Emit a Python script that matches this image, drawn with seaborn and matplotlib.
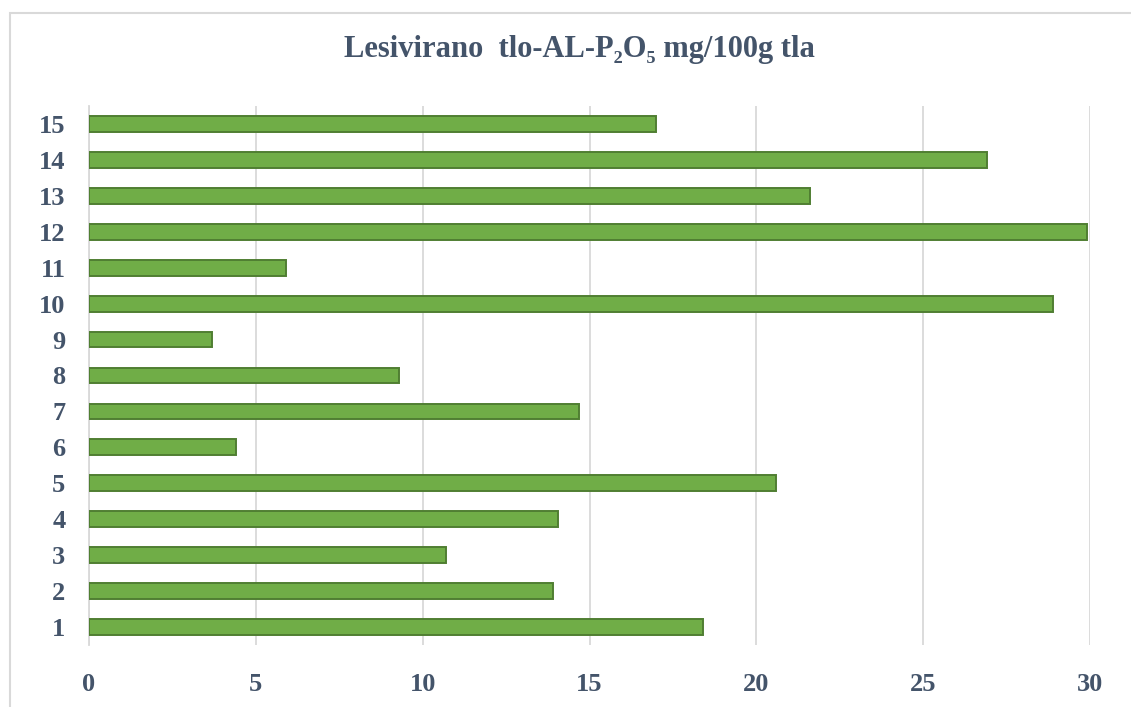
"""
Horizontal bar chart: Lesivirano tlo, AL-P2O5 per sample.
"""

import numpy as np
import pandas as pd
import matplotlib
matplotlib.use("Agg")
import matplotlib.pyplot as plt
from matplotlib.patches import Rectangle
import seaborn as sns

# sample numbers and P2O5 values (mg/100g tla)
samples = ["1", "2", "3", "4", "5", "6", "7", "8", "9", "10", "11", "12", "13", "14", "15"]
p2o5 = [18.4, 13.9, 10.7, 14.05, 20.6, 4.4, 14.7, 9.3, 3.7, 28.9, 5.9, 29.9, 21.6, 26.9, 17.0]
x_ticks = [0, 5, 10, 15, 20, 25, 30]

title = "Lesivirano  tlo-AL-P\u2082O\u2085 mg/100g tla"

text_col = "#44546A"
grid_col = "#D9D9D9"
bar_col = "#70AD47"
edge_col = "#507E32"

sns.set_style("white")
plt.rcParams["font.family"] = ["Liberation Serif", "DejaVu Serif"]
plt.rcParams["font.weight"] = "bold"

df = pd.DataFrame({"sample": samples, "value": p2o5})

fig = plt.figure(figsize=(11.31, 7.07), dpi=100)
ax = fig.add_axes([89 / 1131, 1 - 645 / 707, (1090 - 89) / 1131, (645 - 106) / 707])

# top category first so sample 15 ends up on top
sns.barplot(data=df, x="value", y="sample", order=samples[::-1], orient="h",
            color=bar_col, width=0.44, edgecolor=edge_col, linewidth=1.4,
            saturation=1, ax=ax, zorder=3)

ax.set_xlim(0, 30)
ax.set_ylim(14.5, -0.5)
ax.set_xticks(x_ticks)
ax.set_xticklabels([str(t) for t in x_ticks])
ax.set_xlabel("")
ax.set_ylabel("")

ax.grid(axis="x", color=grid_col, linewidth=1.3, zorder=0)
ax.grid(axis="y", visible=False)
for s in ["top", "right", "bottom"]:
    ax.spines[s].set_visible(False)
ax.spines["left"].set_color(grid_col)
ax.spines["left"].set_linewidth(1.3)

ax.tick_params(axis="x", length=0, pad=20, labelsize=19, labelcolor=text_col)
ax.tick_params(axis="y", length=0, pad=17, labelsize=19, labelcolor=text_col)
for lab in ax.get_xticklabels() + ax.get_yticklabels():
    lab.set_fontweight("bold")

fig.text(0.512, 1 - 49 / 707, title, ha="center", va="center",
         fontsize=22, fontweight="bold", color=text_col)

# light outer frame like the original chart area
fig.patches.append(Rectangle((10 / 1131, -0.01), 1.0, 1 - 13 / 707 + 0.01,
                             transform=fig.transFigure, fill=False,
                             edgecolor=grid_col, linewidth=1.5))

fig.savefig("out.png", dpi=100, facecolor="white")
